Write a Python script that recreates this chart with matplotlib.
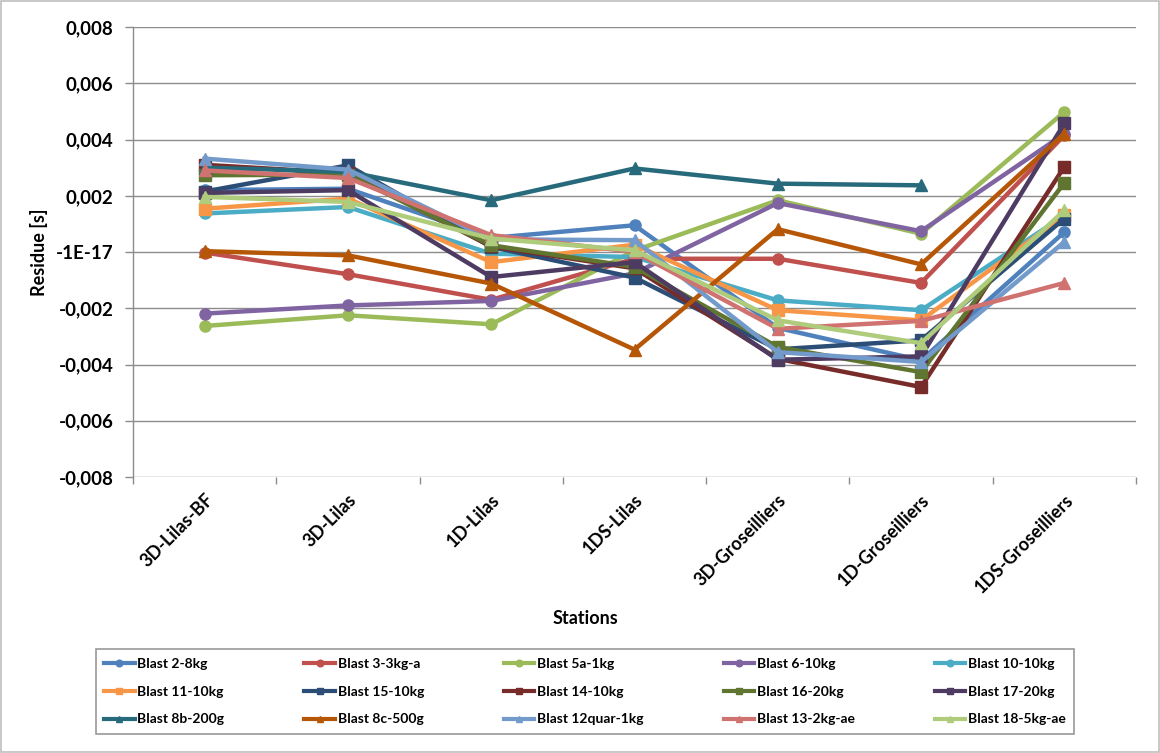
import numpy as np
import matplotlib
matplotlib.use("Agg")
import matplotlib.pyplot as plt
from matplotlib.patches import Rectangle

stations = ["3D-Lilas-BF", "3D-Lilas", "1D-Lilas", "1DS-Lilas",
            "3D-Groseilliers", "1D-Groseilliers", "1DS-Groseilliers"]

series_names = ["Blast 2-8kg", "Blast 3-3kg-a", "Blast 5a-1kg", "Blast 6-10kg", "Blast 10-10kg",
                "Blast 11-10kg", "Blast 15-10kg", "Blast 14-10kg", "Blast 16-20kg", "Blast 17-20kg",
                "Blast 8b-200g", "Blast 8c-500g", "Blast 12quar-1kg", "Blast 13-2kg-ae", "Blast 18-5kg-ae"]

b2_8kg    = [0.0022, 0.00225, 0.00050, 0.00095, -0.0027, -0.00385, 0.00071]
b3_3kg_a  = [-0.00002, -0.00079, -0.0017, -0.00024, -0.00024, -0.0011, 0.00415]
b5a_1kg   = [-0.00263, -0.00225, -0.00257, 0.00005, 0.00184, 0.00065, 0.00498]
b6_10kg   = [-0.00219, -0.0019, -0.00174, -0.00076, 0.00174, 0.00074, 0.0042]
b10_10kg  = [0.00137, 0.0016, -0.00006, -0.00018, -0.00172, -0.00207, 0.0013]
b11_10kg  = [0.00154, 0.0019, -0.00036, 0.00026, -0.00207, -0.00243, 0.0013]
b15_10kg  = [0.00215, 0.00308, 0.00018, -0.00091, -0.00346, -0.00314, 0.00119]
b14_10kg  = [0.0031, 0.0028, 0.0002, -0.00058, -0.0038, -0.0048, 0.00303]
b16_20kg  = [0.00273, 0.00275, 0.00024, -0.00053, -0.00338, -0.00427, 0.00246]
b17_20kg  = [0.0021, 0.0022, -0.00089, -0.00036, -0.00383, -0.00371, 0.00457]
b8b_200g  = [0.003, 0.00285, 0.00184, 0.00297, 0.00243, 0.00237, np.nan]
b8c_500g  = [0.00003, -0.00012, -0.00112, -0.00347, 0.00081, -0.00044, 0.00421]
b12quar   = [0.00332, 0.00293, 0.00045, 0.00042, -0.00356, -0.00391, 0.00036]
b13_2kg   = [0.0029, 0.00263, 0.0006, 0.0, -0.00273, -0.00245, -0.0011]
b18_5kg   = [0.00196, 0.00178, 0.00048, 0.00006, -0.00243, -0.00324, 0.00148]

series_values = [b2_8kg, b3_3kg_a, b5a_1kg, b6_10kg, b10_10kg,
                 b11_10kg, b15_10kg, b14_10kg, b16_20kg, b17_20kg,
                 b8b_200g, b8c_500g, b12quar, b13_2kg, b18_5kg]

colors = ["#4F81BD", "#C0504D", "#9BBB59", "#8064A2", "#4BACC6",
          "#F79646", "#2C4D75", "#772C2A", "#5F7530", "#4D3B62",
          "#276A7C", "#B65708", "#729ACA", "#D07370", "#AFCB7C"]
markers = ["o"] * 5 + ["s"] * 5 + ["^"] * 5

y_ticks = [-0.008, -0.006, -0.004, -0.002, 0.0, 0.002, 0.004, 0.006, 0.008]
y_ticklabels = ["-0,008", "-0,006", "-0,004", "-0,002", "-1E-17",
                "0,002", "0,004", "0,006", "0,008"]

fig = plt.figure(figsize=(11.6, 7.53), dpi=100)
ax = fig.add_axes([133 / 1160, 1 - 477 / 753, (1136 - 133) / 1160, (477 - 27) / 753])

x = np.arange(len(stations))
handles = []
for name, vals, c, m in zip(series_names, series_values, colors, markers):
    h, = ax.plot(x, vals, color=c, marker=m, markersize=8, linewidth=3.2,
                 markeredgecolor=c, label=name, zorder=3)
    handles.append(h)

ax.set_xlim(-0.5, len(stations) - 0.5)
ax.set_ylim(-0.008, 0.008)
ax.set_yticks(y_ticks)
ax.set_yticklabels(y_ticklabels, fontsize=13.5, fontweight="bold", family="Lato")
ax.set_xticks(x)
ax.set_xticklabels(stations, rotation=45, ha="right", rotation_mode="anchor",
                   fontsize=13, fontweight="bold", family="Lato")
ax.set_xticks(np.arange(len(stations) + 1) - 0.5, minor=True)
ax.tick_params(axis="x", which="major", length=0, pad=10)
ax.tick_params(axis="x", which="minor", length=5, color="#8C8C8C", width=1)
ax.tick_params(axis="y", length=6, color="#8C8C8C", width=1, pad=8)
ax.grid(axis="y", color="#8C8C8C", linewidth=1.0, zorder=0)
ax.set_axisbelow(True)
for s in ["top", "right", "bottom"]:
    ax.spines[s].set_visible(False)
ax.spines["left"].set_color("#8C8C8C")
ax.spines["left"].set_linewidth(1.0)

ax.set_ylabel("Residue [s]", fontsize=13, fontweight="bold", family="Lato", labelpad=6)
fig.text(585 / 1160, 1 - 618 / 753, "Stations", ha="center", va="center",
         fontsize=13, fontweight="bold", family="Lato")

order = [r * 5 + c for c in range(5) for r in range(3)]
leg = fig.legend([handles[i] for i in order], [series_names[i] for i in order],
                 ncol=5, loc="center", bbox_to_anchor=(585 / 1160, 1 - 691.5 / 753),
                 prop={"family": "Lato", "weight": "bold", "size": 10},
                 frameon=True, fancybox=False, edgecolor="#7F7F7F",
                 handlelength=2.2, handletextpad=0.2, columnspacing=5.75,
                 labelspacing=1.15, markerscale=0.6, borderpad=0.6, borderaxespad=0)
leg.get_frame().set_linewidth(1.2)
for lh in leg.get_lines():
    lh.set_linewidth(3)

fig.patches.append(Rectangle((0.001, 0.001), 0.998, 0.998, transform=fig.transFigure,
                             fill=False, edgecolor="#BFBFBF", linewidth=1.2))

fig.savefig("out.png", dpi=100)
